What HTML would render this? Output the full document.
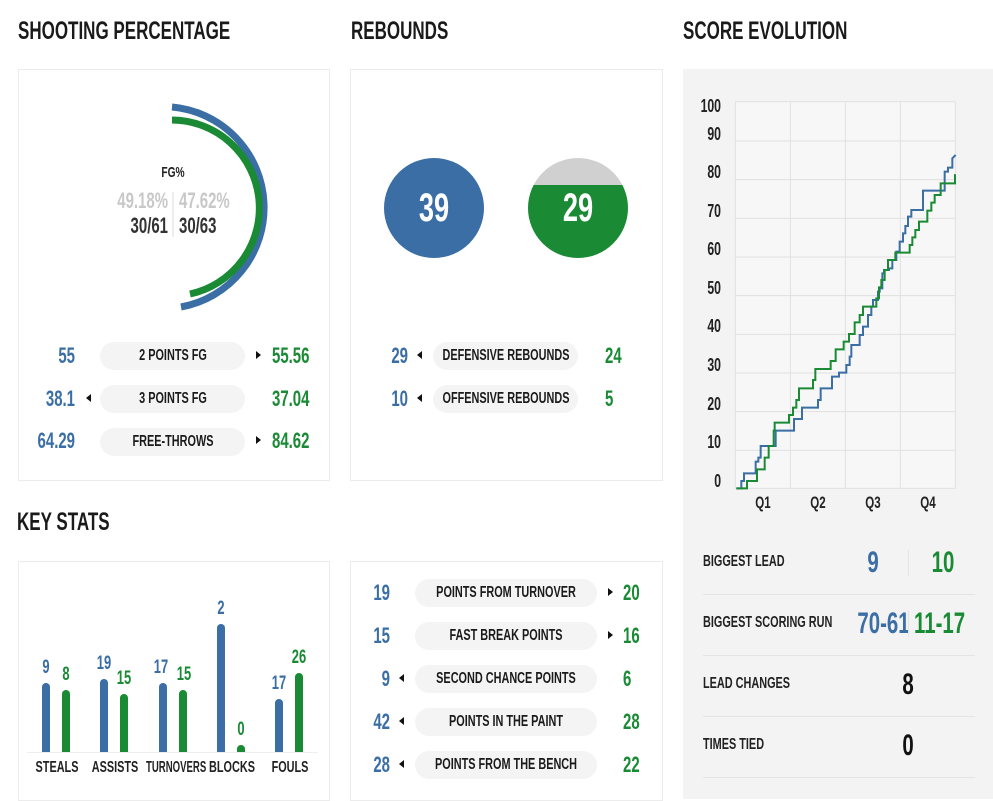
<!DOCTYPE html>
<html><head><meta charset="utf-8"><style>
body{margin:0;width:993px;height:795px;background:#fff;position:relative;overflow:hidden;font-family:"Liberation Sans",sans-serif;font-weight:bold;color:#222}
.a{position:absolute;white-space:nowrap;line-height:1;transform:scaleX(.68);transform-origin:left center}
.R{transform-origin:right center}.C{transform-origin:center center}
.t{font-size:25px;color:#1a1a1a}
.pn{position:absolute;border:1px solid #ececec;background:#fff;box-sizing:border-box}
.b{color:#3a6ea5}.g{color:#1a8a35}
.pill{position:absolute;background:#f4f4f4;border-radius:14px;height:28px;font-size:16px;line-height:28px;color:#1a1a1a;white-space:nowrap}
.pill span{position:absolute;left:50%;top:0;transform:translateX(-50%) scaleX(.68)}
.v{font-size:22px}
.tri{position:absolute;width:0;height:0;border-top:4px solid transparent;border-bottom:4px solid transparent}
.tr{border-left:5px solid #111}.tl{border-right:5px solid #111}
.bar{position:absolute;width:8px;border-radius:4px 4px 0 0}
.sep{position:absolute;left:703px;width:272px;height:1px;background:#e4e4e4}
</style></head><body>
<div class="a t" style="left:18px;top:19px">SHOOTING PERCENTAGE</div>
<div class="a t" style="left:351px;top:19px">REBOUNDS</div>
<div class="a t" style="left:683px;top:19px">SCORE EVOLUTION</div>
<div class="a t" style="left:17px;top:510px">KEY STATS</div>

<div class="pn" style="left:18px;top:69px;width:312px;height:412px"></div>
<div class="pn" style="left:350px;top:69px;width:313px;height:412px"></div>
<div class="pn" style="left:18px;top:561px;width:312px;height:240px"></div>
<div class="pn" style="left:350px;top:561px;width:313px;height:240px"></div>
<div style="position:absolute;left:683px;top:69px;width:310px;height:730px;background:#f3f3f3"></div>

<svg style="position:absolute;left:0;top:0" width="340" height="480">
<path d="M172 107 A101 101 0 0 1 181 307" fill="none" stroke="#3a6ea5" stroke-width="7"/>
<path d="M172 120 A88 88 0 0 1 190 294" fill="none" stroke="#1a8a35" stroke-width="7"/>
<line x1="173" y1="192" x2="173" y2="237" stroke="#ddd" stroke-width="1"/>
</svg>
<div class="a C" style="left:123px;width:100px;text-align:center;top:165px;font-size:15px">FG%</div>
<div class="a R" style="left:68px;width:100px;text-align:right;top:190px;font-size:22px;color:#c8c8c8">49.18%</div>
<div class="a" style="left:179px;top:190px;font-size:22px;color:#c8c8c8">47.62%</div>
<div class="a R" style="left:68px;width:100px;text-align:right;top:215px;font-size:22px;color:#333">30/61</div>
<div class="a" style="left:179px;top:215px;font-size:22px;color:#333">30/63</div>

<div class="a v b R" style="left:0;width:75px;text-align:right;top:345px">55</div>
<div class="pill" style="left:100px;width:145px;top:342px"><span>2 POINTS FG</span></div>
<div class="tri tr" style="left:256px;top:351px"></div>
<div class="a v g" style="left:272px;top:345px">55.56</div>
<div class="a v b R" style="left:0;width:75px;text-align:right;top:388px">38.1</div>
<div class="tri tl" style="left:86px;top:394px"></div>
<div class="pill" style="left:100px;width:145px;top:385px"><span>3 POINTS FG</span></div>
<div class="a v g" style="left:272px;top:388px">37.04</div>
<div class="a v b R" style="left:0;width:75px;text-align:right;top:430px">64.29</div>
<div class="pill" style="left:100px;width:145px;top:428px"><span>FREE-THROWS</span></div>
<div class="tri tr" style="left:256px;top:436px"></div>
<div class="a v g" style="left:272px;top:430px">84.62</div>

<div style="position:absolute;left:384px;top:158px;width:100px;height:100px;border-radius:50%;background:#3a6ea5"></div>
<div style="position:absolute;left:528px;top:158px;width:100px;height:100px;border-radius:50%;background:linear-gradient(#d0d0d0 0,#d0d0d0 27px,#1a8a35 27px)"></div>
<div class="a C" style="left:384px;width:100px;text-align:center;top:188px;font-size:40px;color:#fff">39</div>
<div class="a C" style="left:528px;width:100px;text-align:center;top:188px;font-size:40px;color:#fff">29</div>
<div class="a v b R" style="left:350px;width:58px;text-align:right;top:345px">29</div>
<div class="tri tl" style="left:417px;top:351px"></div>
<div class="pill" style="left:433px;width:145px;top:342px"><span>DEFENSIVE REBOUNDS</span></div>
<div class="a v g" style="left:605px;top:345px">24</div>
<div class="a v b R" style="left:350px;width:58px;text-align:right;top:388px">10</div>
<div class="tri tl" style="left:417px;top:394px"></div>
<div class="pill" style="left:433px;width:145px;top:385px"><span>OFFENSIVE REBOUNDS</span></div>
<div class="a v g" style="left:605px;top:388px">5</div>

<div class="a v b R" style="left:350px;width:40px;text-align:right;top:582px">19</div>
<div class="pill" style="left:415px;width:182px;top:579px"><span>POINTS FROM TURNOVER</span></div>
<div class="tri tr" style="left:608px;top:588px"></div>
<div class="a v g" style="left:623px;top:582px">20</div>
<div class="a v b R" style="left:350px;width:40px;text-align:right;top:625px">15</div>
<div class="pill" style="left:415px;width:182px;top:622px"><span>FAST BREAK POINTS</span></div>
<div class="tri tr" style="left:608px;top:631px"></div>
<div class="a v g" style="left:623px;top:625px">16</div>
<div class="a v b R" style="left:350px;width:40px;text-align:right;top:668px">9</div>
<div class="tri tl" style="left:399px;top:674px"></div>
<div class="pill" style="left:415px;width:182px;top:665px"><span>SECOND CHANCE POINTS</span></div>
<div class="a v g" style="left:623px;top:668px">6</div>
<div class="a v b R" style="left:350px;width:40px;text-align:right;top:711px">42</div>
<div class="tri tl" style="left:399px;top:717px"></div>
<div class="pill" style="left:415px;width:182px;top:708px"><span>POINTS IN THE PAINT</span></div>
<div class="a v g" style="left:623px;top:711px">28</div>
<div class="a v b R" style="left:350px;width:40px;text-align:right;top:754px">28</div>
<div class="tri tl" style="left:399px;top:760px"></div>
<div class="pill" style="left:415px;width:182px;top:751px"><span>POINTS FROM THE BENCH</span></div>
<div class="a v g" style="left:623px;top:754px">22</div>

<div style="position:absolute;left:27px;top:752px;width:291px;height:1px;background:#eee"></div>
<div class="bar" style="left:42px;top:683px;height:69px;background:#3a6ea5"></div>
<div class="bar" style="left:62px;top:690px;height:62px;background:#1a8a35"></div>
<div class="bar" style="left:100px;top:679px;height:73px;background:#3a6ea5"></div>
<div class="bar" style="left:120px;top:694px;height:58px;background:#1a8a35"></div>
<div class="bar" style="left:159px;top:683px;height:69px;background:#3a6ea5"></div>
<div class="bar" style="left:179px;top:690px;height:62px;background:#1a8a35"></div>
<div class="bar" style="left:217px;top:624px;height:128px;background:#3a6ea5"></div>
<div class="bar" style="left:237px;top:745px;height:7px;background:#1a8a35"></div>
<div class="bar" style="left:275px;top:699px;height:53px;background:#3a6ea5"></div>
<div class="bar" style="left:295px;top:673px;height:79px;background:#1a8a35"></div>
<div class="a b C" style="left:26px;width:40px;text-align:center;top:658px;font-size:19px">9</div>
<div class="a g C" style="left:46px;width:40px;text-align:center;top:665px;font-size:19px">8</div>
<div class="a b C" style="left:84px;width:40px;text-align:center;top:654px;font-size:19px">19</div>
<div class="a g C" style="left:104px;width:40px;text-align:center;top:669px;font-size:19px">15</div>
<div class="a b C" style="left:141px;width:40px;text-align:center;top:658px;font-size:19px">17</div>
<div class="a g C" style="left:164px;width:40px;text-align:center;top:665px;font-size:19px">15</div>
<div class="a b C" style="left:201px;width:40px;text-align:center;top:599px;font-size:19px">2</div>
<div class="a g C" style="left:221px;width:40px;text-align:center;top:720px;font-size:19px">0</div>
<div class="a b C" style="left:259px;width:40px;text-align:center;top:674px;font-size:19px">17</div>
<div class="a g C" style="left:279px;width:40px;text-align:center;top:648px;font-size:19px">26</div>
<div class="a C" style="left:17px;width:80px;text-align:center;top:760px;font-size:16px">STEALS</div>
<div class="a C" style="left:75px;width:80px;text-align:center;top:760px;font-size:16px">ASSISTS</div>
<div class="a C" style="left:128px;width:90px;text-align:center;top:760px;font-size:16px;transform:scaleX(.6)">TURNOVERS</div>
<div class="a C" style="left:192px;width:80px;text-align:center;top:760px;font-size:16px">BLOCKS</div>
<div class="a C" style="left:250px;width:80px;text-align:center;top:760px;font-size:16px">FOULS</div>

<svg style="position:absolute;left:683px;top:70px" width="310" height="450" viewBox="0 0 930 1350">
<rect x="157" y="95" width="660" height="1160" fill="#f7f7f7" stroke="#e2e2e2" stroke-width="3"/>
<g stroke="#e0e0e0" stroke-width="3">
<line x1="157" x2="817" y1="213" y2="213"/><line x1="157" x2="817" y1="329" y2="329"/><line x1="157" x2="817" y1="445" y2="445"/><line x1="157" x2="817" y1="561" y2="561"/><line x1="157" x2="817" y1="677" y2="677"/><line x1="157" x2="817" y1="793" y2="793"/><line x1="157" x2="817" y1="909" y2="909"/><line x1="157" x2="817" y1="1025" y2="1025"/><line x1="157" x2="817" y1="1141" y2="1141"/>
<line x1="322" x2="322" y1="95" y2="1255"/><line x1="487" x2="487" y1="95" y2="1255"/><line x1="652" x2="652" y1="95" y2="1255"/>
</g>
<polyline fill="none" stroke="#3a6ea5" stroke-width="6" points="160,1255 175,1255 175,1233 183,1233 183,1210 218,1210 218,1175 226,1175 226,1163 233,1163 233,1128 278,1128 278,1082 333,1082 333,1047 357,1047 357,1013 405,1013 405,990 413,990 413,955 447,955 447,920 468,920 468,908 490,908 490,885 500,885 500,860 505,860 505,825 530,825 530,795 540,795 540,770 555,770 555,735 565,735 565,710 570,710 570,690 585,690 585,665 590,665 590,655 598,655 598,610 603,610 603,600 618,600 618,595 628,595 628,570 640,570 640,545 650,545 650,515 660,515 660,490 667,490 667,468 675,468 675,440 685,440 685,420 720,420 720,362 785,362 785,305 795,305 795,293 808,293 808,265 818,255"/>
<polyline fill="none" stroke="#1a8a35" stroke-width="6" points="160,1255 192,1255 192,1233 222,1233 222,1198 245,1198 245,1163 257,1163 257,1128 272,1128 272,1082 275,1082 275,1058 318,1058 318,1035 330,1035 330,1013 340,1013 340,990 348,990 348,955 390,955 390,930 397,930 397,897 443,897 443,873 458,873 458,838 482,838 482,815 498,815 498,792 515,792 515,757 530,757 530,735 540,735 540,710 580,710 580,685 588,685 588,652 595,652 595,630 605,630 605,600 615,600 615,570 637,570 637,548 680,548 680,525 688,525 688,502 697,502 697,480 708,480 708,455 733,455 733,422 745,422 745,398 755,398 755,375 773,375 773,340 816,340 816,315 818,315"/>
</svg>
<div class="a R" style="left:690px;width:31px;text-align:right;top:97px;font-size:18px">100</div>
<div class="a R" style="left:690px;width:31px;text-align:right;top:125px;font-size:18px">90</div>
<div class="a R" style="left:690px;width:31px;text-align:right;top:163px;font-size:18px">80</div>
<div class="a R" style="left:690px;width:31px;text-align:right;top:202px;font-size:18px">70</div>
<div class="a R" style="left:690px;width:31px;text-align:right;top:240px;font-size:18px">60</div>
<div class="a R" style="left:690px;width:31px;text-align:right;top:279px;font-size:18px">50</div>
<div class="a R" style="left:690px;width:31px;text-align:right;top:317px;font-size:18px">40</div>
<div class="a R" style="left:690px;width:31px;text-align:right;top:356px;font-size:18px">30</div>
<div class="a R" style="left:690px;width:31px;text-align:right;top:395px;font-size:18px">20</div>
<div class="a R" style="left:690px;width:31px;text-align:right;top:433px;font-size:18px">10</div>
<div class="a R" style="left:690px;width:31px;text-align:right;top:472px;font-size:18px">0</div>
<div class="a C" style="left:743px;width:40px;text-align:center;top:494px;font-size:17px">Q1</div>
<div class="a C" style="left:798px;width:40px;text-align:center;top:494px;font-size:17px">Q2</div>
<div class="a C" style="left:853px;width:40px;text-align:center;top:494px;font-size:17px">Q3</div>
<div class="a C" style="left:908px;width:40px;text-align:center;top:494px;font-size:17px">Q4</div>

<div class="a" style="left:703px;top:554px;font-size:16px">BIGGEST LEAD</div>
<div class="a b C" style="left:843px;width:60px;text-align:center;top:548px;font-size:30px">9</div>
<div style="position:absolute;left:908px;top:550px;width:1px;height:26px;background:#e4e4e4"></div>
<div class="a g C" style="left:913px;width:60px;text-align:center;top:548px;font-size:30px">10</div>
<div class="sep" style="top:594px"></div>
<div class="a" style="left:703px;top:615px;font-size:16px">BIGGEST SCORING RUN</div>
<div class="a b R" style="left:835px;width:70px;text-align:right;top:609px;font-size:30px">70-61</div>
<div style="position:absolute;left:908px;top:611px;width:1px;height:26px;background:#e4e4e4"></div>
<div class="a g" style="left:914px;top:609px;font-size:30px">11-17</div>
<div class="sep" style="top:655px"></div>
<div class="a" style="left:703px;top:676px;font-size:16px">LEAD CHANGES</div>
<div class="a C" style="left:878px;width:60px;text-align:center;top:670px;font-size:30px;color:#111">8</div>
<div class="sep" style="top:716px"></div>
<div class="a" style="left:703px;top:737px;font-size:16px">TIMES TIED</div>
<div class="a C" style="left:878px;width:60px;text-align:center;top:731px;font-size:30px;color:#111">0</div>
<div class="sep" style="top:777px"></div>
</body></html>
